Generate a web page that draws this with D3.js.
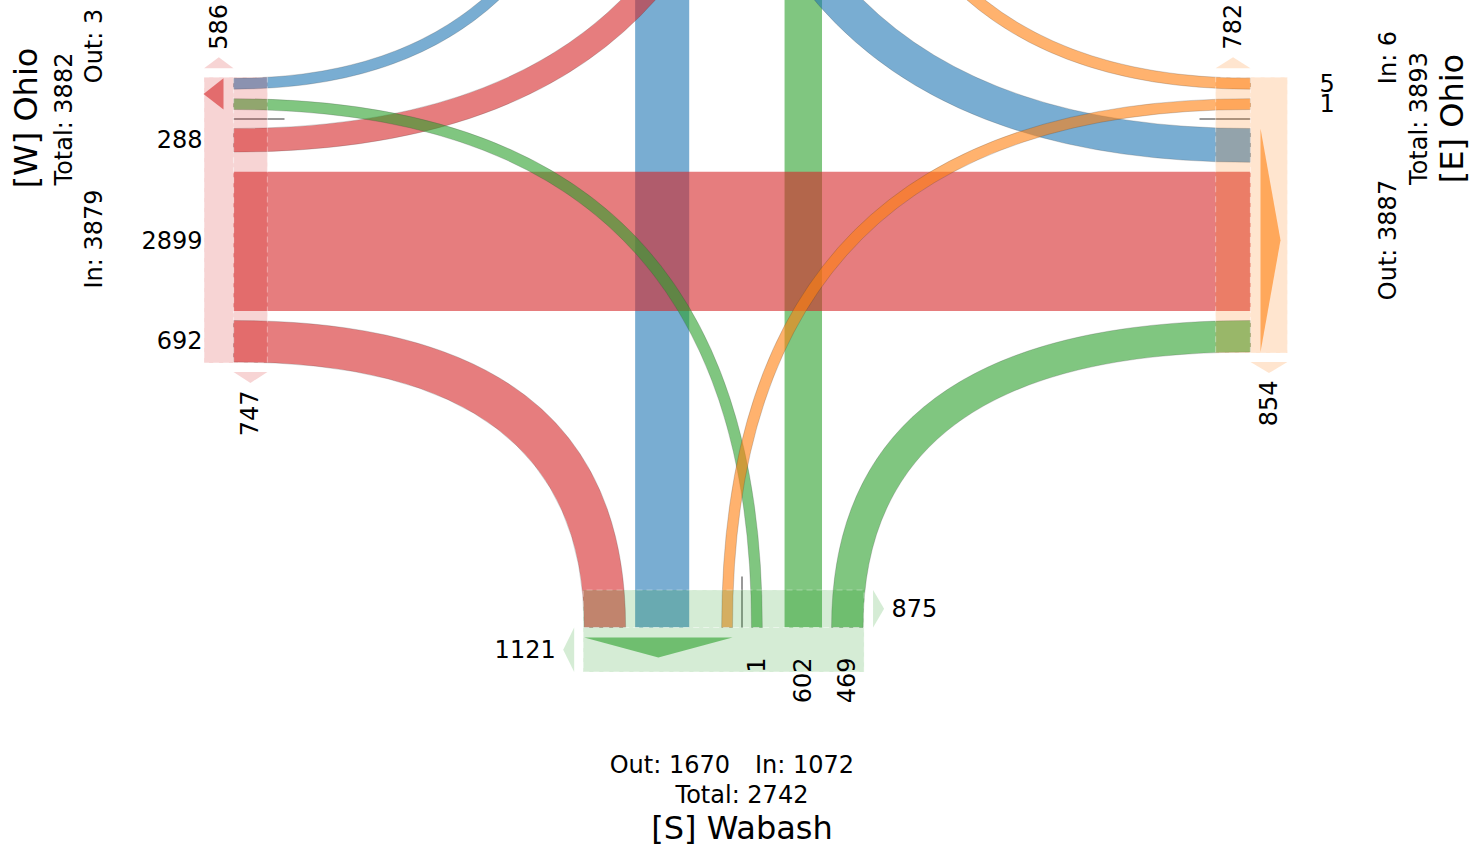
<!DOCTYPE html>
<html>
<head>
<meta charset="utf-8">
<script src="https://cdn.jsdelivr.net/npm/d3@7"></script>
<style>
  body { margin: 0; background: #fff; }
  text { font-family: "DejaVu Sans", sans-serif; fill: #000; }
</style>
</head>
<body>
<svg id="chart" width="1484" height="848"></svg>
<script>
// turning movements through the junction: origin -> destination, vehicles
var flowOrigin = ["N", "S", "W", "W", "W", "N", "N", "S", "S", "E", "E", "W", "E", "S"];
var flowDest   = ["S", "N", "E", "N", "S", "E", "W", "W", "E", "N", "S", "W", "E", "S"];
var flowValue  = [977, 602, 2899, 288, 692, 519, 2, 1, 469, 5, 1, 0, 0, 0];

// arms shown on the picture (north arm lies above the frame)
var armIds   = ["W", "E", "S"];
var armNames = ["[W] Ohio", "[E] Ohio", "[S] Wabash"];
var pedInner = [747, 782, 875];
var pedOuter = [586, 854, 1121];

var armColor = {N: "#1f77b4", E: "#ff7f0e", S: "#2ca02c", W: "#d62728"};

var svg = d3.select("#chart");
var cx = 742, cy = 119, R = 508.5, gap = 9.5;
var order = ["N", "E", "S", "W"];
var edge = {N: [cx, cy - R], E: [cx + R, cy], S: [cx, cy + R], W: [cx - R, cy]};
var lat = {N: [-1, 0], E: [0, -1], S: [1, 0], W: [0, 1]};
var inward = {N: [0, 1], E: [-1, 0], S: [0, -1], W: [1, 0]};

var widthScale = d3.scaleLinear().domain([0, d3.max(flowValue)]).range([10.8, 139.2]);
var pedScale = d3.scaleLinear().domain([0, 1121]).range([13, 44.4]);

var flows = flowValue.map(function(v, i) {
    var o = flowOrigin[i], d = flowDest[i];
    var turn = (order.indexOf(d) - order.indexOf(o) + 4) % 4;
    return {o: o, d: d, v: v, turn: turn, w: v > 0 ? widthScale(v) : 0};
});

// stack lanes: left turns nearest the middle, then straight (aligned both ends), then right turns
var curIn = {}, curOut = {};
order.forEach(function(a) { curIn[a] = 0; curOut[a] = 0; });
[1, 2, 3].forEach(function(t) {
    flows.filter(function(f) { return f.turn === t && f.v > 0; }).forEach(function(f) {
        var a = curIn[f.o] + gap, b = curOut[f.d] + gap;
        if (t === 2) { a = b = Math.max(a, b); }
        f.a0 = a; f.a1 = a + f.w; curIn[f.o] = f.a1;
        f.b0 = b; f.b1 = b + f.w; curOut[f.d] = f.b1;
    });
});

function pt(a, off, depth) {
    return [edge[a][0] + lat[a][0] * off + inward[a][0] * depth,
            edge[a][1] + lat[a][1] * off + inward[a][1] * depth];
}
function corner(o, s, e) {
    return inward[o][0] !== 0 ? [e[0], s[1]] : [s[0], e[1]];
}
function flowPath(f) {
    var p = d3.path();
    var s0 = pt(f.o, f.a0, 0), s1 = pt(f.o, f.a1, 0);
    var e0 = pt(f.d, -f.b0, 0), e1 = pt(f.d, -f.b1, 0);
    p.moveTo(s0[0], s0[1]);
    if (f.turn === 2) p.lineTo(e0[0], e0[1]);
    else { var c = corner(f.o, s0, e0); p.quadraticCurveTo(c[0], c[1], e0[0], e0[1]); }
    p.lineTo(e1[0], e1[1]);
    if (f.turn === 2) p.lineTo(s1[0], s1[1]);
    else { var c2 = corner(f.o, s1, e1); p.quadraticCurveTo(c2[0], c2[1], s1[0], s1[1]); }
    p.closePath();
    return p.toString();
}
function poly(pts) { return "M" + pts.map(function(p) { return p.join(","); }).join("L") + "Z"; }

// Flows: straight ones underneath, turning ones on top
var drawn = flows.filter(function(f) { return f.v > 0 && f.turn === 2; })
    .concat(flows.filter(function(f) { return f.v > 0 && f.turn !== 2; }));
svg.append("g").selectAll("path")
    .data(drawn)
    .enter().append("path")
    .attr("d", flowPath)
    .attr("fill", function(f) { return armColor[f.o]; })
    .attr("fill-opacity", 0.6)
    .attr("stroke", function(f) { return f.turn === 2 ? "none" : "#333"; })
    .attr("stroke-opacity", 0.3)
    .attr("stroke-width", 0.7);

// U-turns with no traffic
svg.append("g").selectAll("line")
    .data(flows.filter(function(f) { return f.turn === 0; }))
    .enter().append("line")
    .attr("x1", function(f) { return pt(f.o, 0, 0)[0]; })
    .attr("y1", function(f) { return pt(f.o, 0, 0)[1]; })
    .attr("x2", function(f) { return pt(f.o, 0, 51)[0]; })
    .attr("y2", function(f) { return pt(f.o, 0, 51)[1]; })
    .attr("stroke", "#999")
    .attr("stroke-width", 2);

// Arms
var labelDist = {W: 31, E: 69, S: 30};
armIds.forEach(function(a, i) {
    var col = armColor[a];
    var offs = [], outs = [];
    flows.forEach(function(f) {
        if (f.v <= 0) return;
        if (f.o === a) offs.push(f.a0, f.a1);
        if (f.d === a) { offs.push(-f.b0, -f.b1); outs.push(-f.b0, -f.b1); }
    });
    var lo = d3.min(offs) - 1, hi = d3.max(offs) + 1;
    var dIn = pedScale(pedInner[i]), dOut = pedScale(pedOuter[i]);
    var g = svg.append("g");

    [[0, dIn], [0, -dOut]].forEach(function(d) {
        g.append("path")
            .attr("d", poly([pt(a, lo, d[0]), pt(a, hi, d[0]), pt(a, hi, d[1]), pt(a, lo, d[1])]))
            .attr("fill", col).attr("fill-opacity", 0.2)
            .attr("stroke", "#fff").attr("stroke-opacity", 0.35)
            .attr("stroke-width", 1.2).attr("stroke-dasharray", "6,4");
    });

    // outflow triangle
    var olo = d3.min(outs), ohi = d3.max(outs);
    g.append("path")
        .attr("d", poly([pt(a, olo, -10), pt(a, ohi, -10), pt(a, (olo + ohi) / 2, -30)]))
        .attr("fill", col).attr("fill-opacity", 0.6);

    var vertical = lat[a][0] === 0;
    // crossing arrows with their counts
    [[hi, 1, 0, dIn, pedInner[i]], [lo, -1, 0, -dOut, pedOuter[i]]].forEach(function(s) {
        var base = s[0] + s[1] * 9, tip = s[0] + s[1] * 20, mid = (s[2] + s[3]) / 2;
        g.append("path")
            .attr("d", poly([pt(a, base, s[2]), pt(a, base, s[3]), pt(a, tip, mid)]))
            .attr("fill", col).attr("fill-opacity", 0.2);
        var lp = pt(a, s[0] + s[1] * 27.5, mid);
        var dir = [lat[a][0] * s[1], lat[a][1] * s[1]];
        var t = g.append("text")
            .attr("font-size", 24)
            .attr("dominant-baseline", "central")
            .text(s[4]);
        if (vertical) {
            t.attr("transform", "translate(" + lp[0] + "," + lp[1] + ") rotate(-90)")
             .attr("text-anchor", dir[1] < 0 ? "start" : "end");
        } else {
            t.attr("x", lp[0]).attr("y", lp[1])
             .attr("text-anchor", dir[0] > 0 ? "start" : "end");
        }
    });

    // inflow counts
    flows.filter(function(f) { return f.o === a && f.v > 0; }).forEach(function(f) {
        var lp = pt(a, (f.a0 + f.a1) / 2, -labelDist[a]);
        var t = g.append("text")
            .attr("font-size", 24)
            .attr("dominant-baseline", "central")
            .text(f.v);
        if (vertical) {
            t.attr("x", lp[0]).attr("y", lp[1])
             .attr("text-anchor", -inward[a][0] < 0 ? "end" : "start");
        } else {
            t.attr("transform", "translate(" + lp[0] + "," + lp[1] + ") rotate(-90)")
             .attr("text-anchor", -inward[a][1] > 0 ? "end" : "start");
        }
    });
});

// Arm summaries
function armTotals(a) {
    var tin = d3.sum(flows, function(f) { return f.o === a ? f.v : 0; });
    var tout = d3.sum(flows, function(f) { return f.d === a && f.o !== a ? f.v : 0; });
    return {tin: tin, tout: tout, total: tin + tout};
}
function vText(x, y, size, str) {
    svg.append("text")
        .attr("transform", "translate(" + x + "," + y + ") rotate(-90)")
        .attr("text-anchor", "middle")
        .attr("dominant-baseline", "central")
        .attr("font-size", size)
        .text(str);
}
function hText(x, y, size, anchor, str) {
    svg.append("text")
        .attr("x", x).attr("y", y)
        .attr("text-anchor", anchor)
        .attr("dominant-baseline", "central")
        .attr("font-size", size)
        .text(str);
}

var tw = armTotals("W");
vText(26, 118, 32, armNames[0]);
vText(64, 119, 24, "Total: " + tw.total);
vText(94, 46, 24, "Out: " + tw.tout);
vText(94, 239, 24, "In: " + tw.tin);

var te = armTotals("E");
vText(1452, 118.5, 32, armNames[1]);
vText(1419, 118.5, 24, "Total: " + te.total);
vText(1388, 57.5, 24, "In: " + te.tin);
vText(1388, 240, 24, "Out: " + te.tout);

var ts = armTotals("S");
hText(730, 765, 24, "end", "Out: " + ts.tout);
hText(755, 765, 24, "start", "In: " + ts.tin);
hText(742, 795, 24, "middle", "Total: " + ts.total);
hText(742, 828, 32, "middle", armNames[2]);
</script>
</body>
</html>
